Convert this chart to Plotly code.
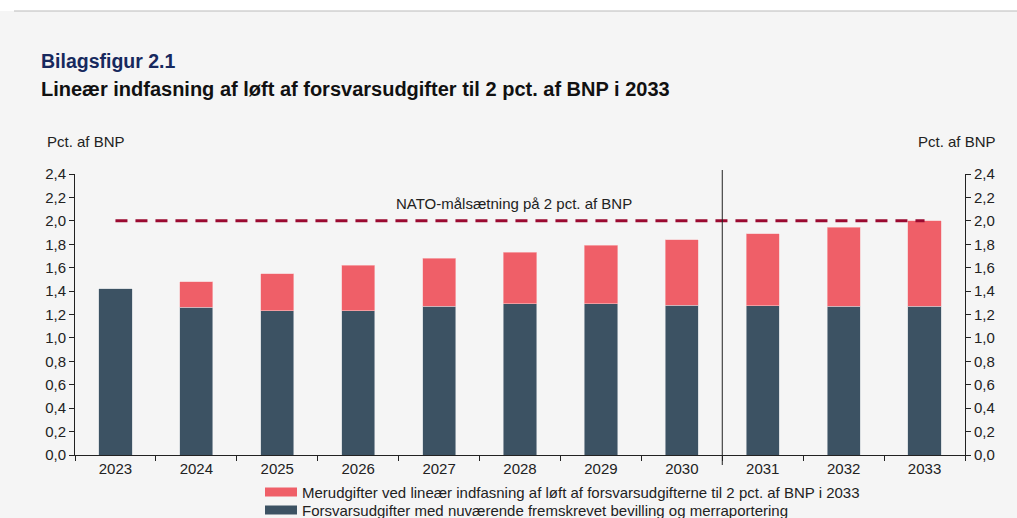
import plotly.graph_objects as go

# Data
years = ["2023", "2024", "2025", "2026", "2027", "2028", "2029", "2030", "2031", "2032", "2033"]
current_spend = [1.42, 1.26, 1.23, 1.23, 1.27, 1.29, 1.29, 1.28, 1.275, 1.27, 1.27]
total_spend = [1.42, 1.48, 1.55, 1.62, 1.68, 1.73, 1.79, 1.84, 1.89, 1.945, 2.00]
extra_spend = [round(t - c, 3) or None for t, c in zip(total_spend, current_spend)]
nato_target = [2.0] * len(years)

name_extra = "Merudgifter ved lineær indfasning af løft af forsvarsudgifterne til 2 pct. af BNP i 2033"
name_current = "Forsvarsudgifter med nuværende fremskrevet bevilling og merraportering"

DARK = "#3c5263"
RED = "#ef5f68"
NATO = "#9b0a30"
BG = "#f5f5f5"
FONT = "Liberation Sans, Arial, sans-serif"

W, H = 1017, 518
L, R, T, B = 75, 52, 174, 63
pw, ph = W - L - R, H - T - B


def px(x):
    return (x - L) / pw


def py(y):
    return (H - B - y) / ph


fig = go.Figure()
fig.add_trace(go.Bar(x=years, y=current_spend, name=name_current, marker_color=DARK,
                     marker_line=dict(color="#c9d0d6", width=0.6), width=0.41, showlegend=False))
fig.add_trace(go.Bar(x=years, y=extra_spend, name=name_extra, marker_color=RED,
                     marker_line=dict(color="#f7c3c6", width=0.6), width=0.41, showlegend=False))
fig.add_trace(go.Scatter(x=years, y=nato_target, mode="lines", showlegend=False,
                         line=dict(color=NATO, width=3, dash="12px,8px"), hoverinfo="skip"))
# invisible trace so the right axis is drawn
fig.add_trace(go.Scatter(x=years, y=nato_target, yaxis="y2", mode="lines",
                         line=dict(width=0), showlegend=False, hoverinfo="skip"))

axis_common = dict(range=[0, 2.4], dtick=0.2, tickformat=".1f", showgrid=False, zeroline=False,
                   showline=True, linecolor="#222", linewidth=1, ticks="outside", ticklen=5,
                   tickcolor="#222", tickfont=dict(size=15, color="#222", family=FONT),
                   automargin=False)

fig.update_layout(
    width=W, height=H,
    margin=dict(l=L, r=R, t=T, b=B, autoexpand=False),
    paper_bgcolor=BG, plot_bgcolor=BG,
    barmode="stack", bargap=0.59,
    separators=",.",
    font=dict(family=FONT, color="#222"),
    xaxis=dict(type="category", range=[-0.5, len(years) - 0.5], showgrid=False, showline=True,
               linecolor="#222", linewidth=1, ticks="outside", ticklen=5, tickcolor="#222",
               tickson="boundaries", tickfont=dict(size=15, color="#222", family=FONT),
               automargin=False),
    yaxis=axis_common,
    yaxis2=dict(axis_common, overlaying="y", side="right"),
    showlegend=False,
)

# white strip and rule at the very top
fig.add_shape(type="rect", xref="paper", yref="paper", x0=px(0), x1=px(W), y0=py(11), y1=py(0),
              fillcolor="white", line_width=0, layer="below")
fig.add_shape(type="line", xref="paper", yref="paper", x0=px(14), x1=px(W), y0=py(11), y1=py(11),
              line=dict(color="#bbbbbb", width=1))

# vertical separator between 2030 and 2031
fig.add_shape(type="line", xref="x", yref="paper", x0=7.5, x1=7.5, y0=py(465), y1=py(170),
              line=dict(color="#222", width=1))

# legend drawn by hand (wide swatches)
for i, (name, col) in enumerate([(name_extra, RED), (name_current, DARK)]):
    cy = 492 + 18 * i
    fig.add_shape(type="rect", xref="paper", yref="paper", x0=px(265), x1=px(297),
                  y0=py(cy + 4.5), y1=py(cy - 4.5), fillcolor=col, line_width=0)
    fig.add_annotation(xref="paper", yref="paper", x=px(300), y=py(cy), xanchor="left",
                       yanchor="middle", text=name, showarrow=False,
                       font=dict(size=15, color="#222", family=FONT))

fig.add_annotation(xref="paper", yref="paper", x=px(39), y=py(61), xanchor="left", yanchor="middle",
                   text="<b>Bilagsfigur 2.1</b>", showarrow=False,
                   font=dict(size=19.5, color="#17295e", family=FONT))
fig.add_annotation(xref="paper", yref="paper", x=px(39), y=py(89), xanchor="left", yanchor="middle",
                   text="<b>Lineær indfasning af løft af forsvarsudgifter til 2 pct. af BNP i 2033</b>",
                   showarrow=False, font=dict(size=20, color="#111", family=FONT))
fig.add_annotation(xref="paper", yref="paper", x=px(86), y=py(142), xanchor="center", yanchor="middle",
                   text="Pct. af BNP", showarrow=False, font=dict(size=15, color="#222", family=FONT))
fig.add_annotation(xref="paper", yref="paper", x=px(957), y=py(142), xanchor="center", yanchor="middle",
                   text="Pct. af BNP", showarrow=False, font=dict(size=15, color="#222", family=FONT))
fig.add_annotation(xref="paper", yref="y", x=px(514), y=2.0, yshift=17, xanchor="center", yanchor="middle",
                   text="NATO-målsætning på 2 pct. af BNP", showarrow=False,
                   font=dict(size=15, color="#222", family=FONT))

fig.write_html("out.html", config={"displayModeBar": False},
               post_script="document.body.style.margin='0';")
